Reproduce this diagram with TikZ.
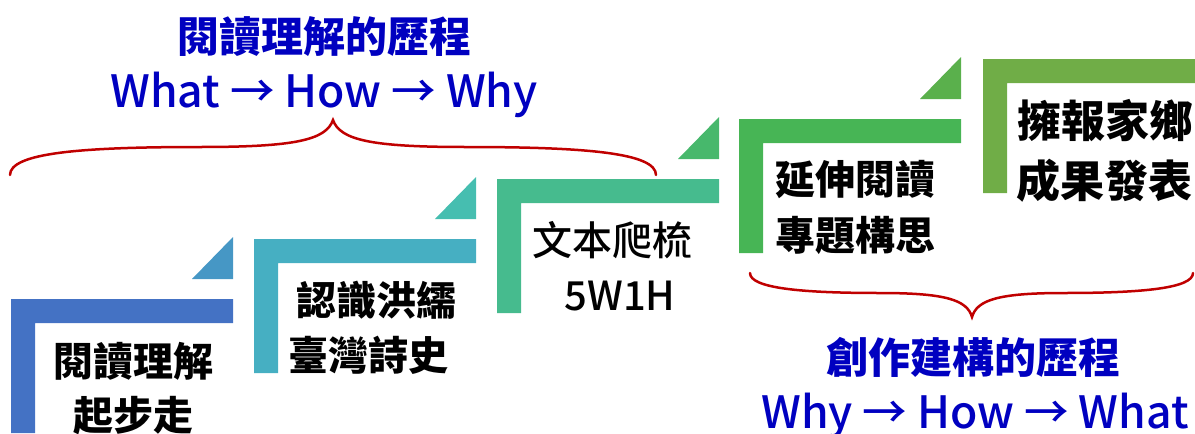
\documentclass[tikz,border=0pt]{standalone}
\usepackage{fontspec}
\setmainfont{Noto Sans CJK TC}
\newfontfamily\cjk{Noto Sans CJK TC}
\newfontfamily\cjkmed{Noto Sans CJK TC}[UprightFont={* Medium}]
\definecolor{barA}{HTML}{4472C4}
\definecolor{triA}{HTML}{4697C5}
\definecolor{barB}{HTML}{46AFC2}
\definecolor{triB}{HTML}{46BEB0}
\definecolor{barC}{HTML}{46BB8E}
\definecolor{triC}{HTML}{47B86C}
\definecolor{barD}{HTML}{47B555}
\definecolor{triD}{HTML}{5AB04C}
\definecolor{barE}{HTML}{70AD47}
\definecolor{ttlblue}{HTML}{0000C0}
\definecolor{bracered}{HTML}{C00000}
\tikzset{
  body/.style={font=\fontsize{40}{44}\selectfont\cjk\bfseries, text=black, inner sep=0pt},
  bodylight/.style={font=\fontsize{40}{44}\selectfont\cjkmed, text=black, inner sep=0pt},
  bodybig/.style={font=\fontsize{44}{48}\selectfont\cjk\bfseries, text=black, inner sep=0pt},
  ttl/.style={font=\fontsize{42}{46}\selectfont\cjk\bfseries, text=ttlblue, inner sep=0pt},
  ttllatin/.style={font=\fontsize{44.5}{48}\selectfont\cjkmed, text=ttlblue, inner sep=0pt},
  brace/.style={draw=bracered, line width=2.5pt, line cap=round},
}
\newcommand{\stepbracket}[3]{%
  \fill[#3] (#1,#2) -- ++(222,0) -- ++(0,24) -- ++(-198,0) -- ++(0,110) -- ++(-24,0) -- cycle;}
\newcommand{\steptri}[3]{%
  \fill[#3] (#1+181,#2-20) -- (#1+222,#2-20) -- (#1+222,#2-62) -- cycle;}
\begin{document}
\begin{tikzpicture}[x=1pt,y=-1pt]
\useasboundingbox (0,0) rectangle (1195,434);
\begin{scope}
\clip (0,0) rectangle (1195,434);
\stepbracket{11}{299}{barA}
\steptri{11}{299}{triA}
\stepbracket{254}{239}{barB}
\steptri{254}{239}{triB}
\stepbracket{497}{179}{barC}
\steptri{497}{179}{triC}
\stepbracket{739}{119}{barD}
\steptri{739}{119}{triD}
\fill[barE] (983,59) -- (1195,59) -- (1195,83) -- (1007,83) -- (1007,193) -- (983,193) -- cycle;
\end{scope}

\node[body] (s1a) at (133,361) {閱讀理解};
\node[body] (s1b) at (133,416) {起步走};
\node[body] (s2a) at (376,300) {認識洪繻};
\node[body] (s2b) at (368,355) {臺灣詩史};
\node[bodylight] (s3a) at (612,240) {文本爬梳};
\node[bodylight] (s3b) at (620,296) {5W1H};
\node[body] (s4a) at (855,180) {延伸閱讀};
\node[body] (s4b) at (855,235) {專題構思};
\node[bodybig] (s5a) at (1105,121) {擁報家鄉};
\node[bodybig] (s5b) at (1104,181) {成果發表};

\node[ttl] (t1a) at (324,37) {閱讀理解的歷程};
\node[ttllatin, anchor=base] (t1b) at (324,107) {What → How → Why};
\node[ttl] (t2a) at (973,357) {創作建構的歷程};
\node[ttllatin, anchor=base] (t2b) at (975,428) {Why → How → What};

\draw[brace] (10,175) .. controls (10,153) and (80,147) .. (200,147)
  .. controls (295,147) and (326,140) .. (333,120)
  .. controls (340,140) and (371,147) .. (466,147)
  .. controls (586,147) and (656,153) .. (656,175);
\draw[brace] (750,273) .. controls (750,288) and (800,293) .. (880,293)
  .. controls (946,293) and (967,300) .. (972,317)
  .. controls (977,300) and (998,293) .. (1064,293)
  .. controls (1144,293) and (1193,288) .. (1193,273);
\end{tikzpicture}
\end{document}
